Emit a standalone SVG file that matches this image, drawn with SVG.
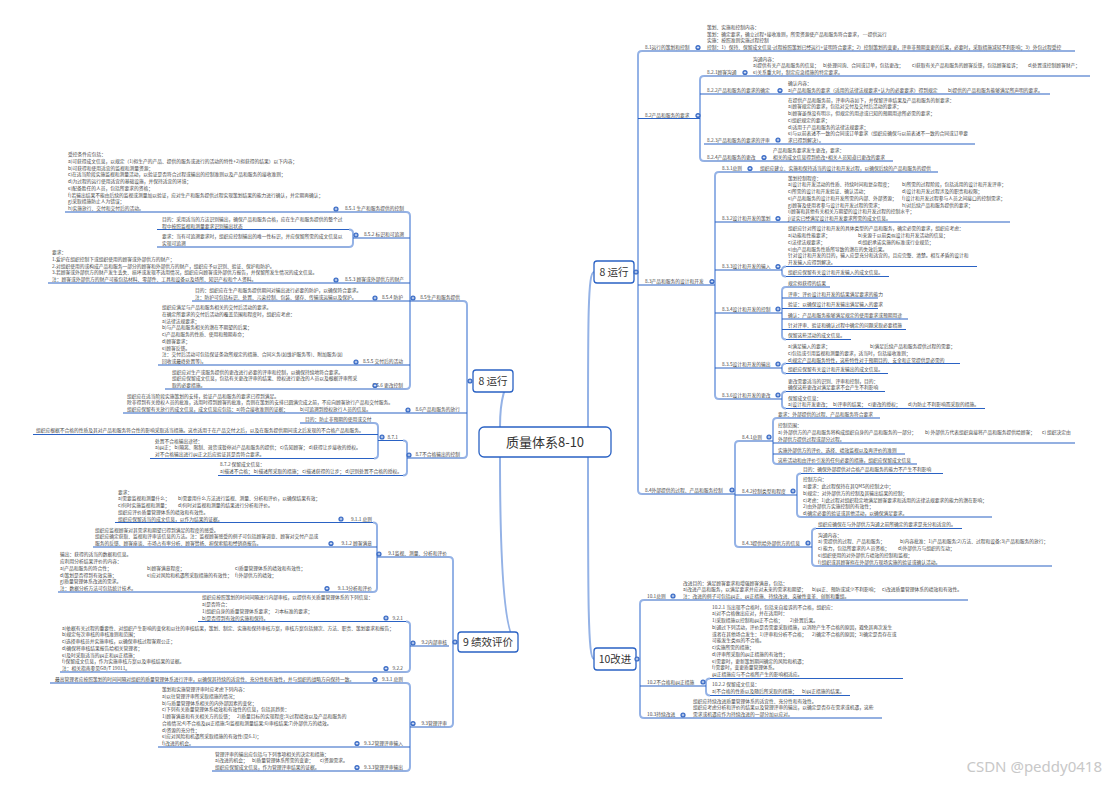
<svg xmlns="http://www.w3.org/2000/svg" xmlns:xlink="http://www.w3.org/1999/xlink" width="1116" height="788" viewBox="0 0 1116 788" xml:space="preserve">
<style>
.t{font-family:"Noto Sans CJK SC","Noto Sans",sans-serif;font-size:4.75px;fill:#454545}
.e{text-anchor:end}
.u{stroke:#2a62c4;stroke-width:1.2;fill:none}
.v{stroke:#94b2e6;stroke-width:2;fill:none}
.cv{stroke:#94b2e6;stroke-width:2;fill:none}
.m{fill:#fff;stroke:#2a62c4;stroke-width:1.3}
.mt{font-family:"Noto Sans CJK SC","Noto Sans",sans-serif;font-size:10.5px;fill:#333;text-anchor:middle}
.ct{font-family:"Noto Sans CJK SC","Noto Sans",sans-serif;font-size:13px;fill:#333;text-anchor:middle}
</style>
<defs>
<g id="d"><circle r="2.6" fill="#3b6cc6"/><path d="M-1.3,0H1.3M0,-1.3V1.3" stroke="#fff" stroke-width="0.7"/></g>
</defs>
<rect width="1116" height="788" fill="#fff"/>
<g id="connectors">
<path class="cv" d="M588,427 C588,320 588,272 594,272"/>
<path class="cv" d="M588,457 C588,600 588,659 594,659"/>
<path class="cv" d="M500,427 C500,400 505,381 513,381"/>
<path class="cv" d="M500,457 C500,600 508,642 518,642"/>
<path class="v" d="M642,51 Q638,51 638,55 L638,490 Q638,494 642,494"/>
<path class="v" d="M704,76 Q700,76 700,80 L700,157 Q700,161 704,161"/>
<path class="v" d="M719,172 Q715,172 715,176 L715,395 Q715,399 719,399"/>
<path class="v" d="M786,266.5 Q782,266.5 782,270 L782,273 Q782,276.5 786,276.5"/>
<path class="v" d="M786,287 Q782,287 782,291 L782,335.5 Q782,339.5 786,339.5"/>
<path class="v" d="M786,363.5 Q782,363.5 782,367 L782,370 Q782,373.5 786,373.5"/>
<path class="v" d="M786,391.5 Q782,391.5 782,395 L782,404.5 Q782,408.5 786,408.5"/>
<path class="v" d="M739,441 Q735,441 735,445 L735,543 Q735,547 739,547"/>
<path class="v" d="M777,418 Q773,418 773,422 L773,460 Q773,464 777,464"/>
<path class="v" d="M801,473.5 Q797,473.5 797,477 L797,513 Q797,517 801,517"/>
<path class="v" d="M816,528.5 Q812,528.5 812,532 L812,562 Q812,566 816,566"/>
<path class="v" d="M644,600 Q640,600 640,604 L640,714 Q640,718 644,718"/>
<path class="v" d="M710,678.5 Q706,678.5 706,682 L706,691.5 Q706,695.5 710,695.5"/>
<path class="v" d="M463,301 Q467,301 467,305 L467,454 Q467,458 463,458"/>
<path class="v" d="M406,212 Q410,212 410,216 L410,385 Q410,389 406,389"/>
<path class="v" d="M349,229.5 Q353,229.5 353,233 L353,243 Q353,247 349,247"/>
<path class="v" d="M403,440.5 Q407,440.5 407,444 L407,471.5 Q407,475.5 403,475.5"/>
<path class="v" d="M374,423 Q378,423 378,427 L378,454.5 Q378,458.5 374,458.5"/>
<path class="v" d="M449,557 Q453,557 453,561 L453,723 Q453,727 449,727"/>
<path class="v" d="M373,522.5 Q377,522.5 377,526 L377,588 Q377,592 373,592"/>
<path class="v" d="M406,621.5 Q410,621.5 410,625 L410,668 Q410,672 406,672"/>
<path class="v" d="M406,683 Q410,683 410,687 L410,767 Q410,771 406,771"/>
<path class="u" d="M642,51H1075M638,118.5H700M704,76H1090M700,94H1050M704,144H975M704,161H893M638,285H715M719,172H938M715,222H1010M715,270H782M786,266.5H977M786,276.5H889M715,313H782M786,287H830M782,298H878M782,308.5H878M782,319H908M782,329.5H906M786,339.5H851M715,368H782M786,363.5H960M786,373.5H888M719,399H782M786,391.5H885M786,408.5H985M642,494H735M739,441H773M777,418H880M773,443H1075M773,454H905M777,464H917M735,495H797M801,473.5H943M801,517H992M739,547H812M816,528.5H962M816,566H1052M644,600H968M640,686H706M710,678.5H903M710,695.5H850M644,718H882"/>
<path class="u" d="M463,301H410M406,212H65M410,238H353M349,229.5H157M349,247H157M410,283H48M410,301H192M410,365H158M406,389H165M467,413H123M463,458H407M403,440.5H378M374,423H300M378,434.5H33M374,458.5H150M403,475.5H218M449,557H377M373,522.5H115M377,547H93M373,592H58M449,646H410M406,621.5H198M406,672H60M449,727H410M406,683H50M410,747H158M406,771H212"/>
</g>
<g id="center"><rect x="479" y="427" width="132" height="30" rx="5" class="m"/><text class="ct" x="545" y="447">质量体系8-10</text></g>
<g id="n8r"><rect x="594" y="261" width="40" height="22" rx="3" class="m"/><text class="mt" x="614" y="275.8">8 运行</text><use href="#d" x="636" y="272"/></g>
<g id="n10"><rect x="594" y="648" width="42" height="22" rx="3" class="m"/><text class="mt" x="615" y="662.8">10改进</text><use href="#d" x="637" y="659"/></g>
<g id="n8l"><rect x="473" y="370" width="40" height="22" rx="3" class="m"/><text class="mt" x="493" y="384.8">8 运行</text><use href="#d" x="470" y="381"/></g>
<g id="n9"><rect x="458" y="632" width="60" height="20" rx="3" class="m"/><text class="mt" x="488" y="645.8">9 绩效评价</text><use href="#d" x="455" y="642"/></g>

<g id="n8-1"><text class="t"><tspan x="645" y="49">8.1运行的策划和控制</tspan></text><use href="#d" x="698" y="47.5"/><text class="t"><tspan x="707" y="28.75">策划、实施和控制内容：</tspan><tspan x="707" y="35.5">策划：确定要求，确立过程+接收准则，所需资源使产品和服务符合要求，    ---提供运行</tspan><tspan x="707" y="42.25">实施：按照准则实施过程控制</tspan><tspan x="707" y="49">控制：1）保持、保留成文信息-过程按照策划已经运行+证明符合要求；2）控制策划的变更，评审非预期变更的后果，必要时，采取措施减轻不利影响；3）外包过程受控</tspan></text></g>
<g id="n8-2"><text class="t"><tspan x="645" y="116.5">8.2产品和服务的要求</tspan></text><use href="#d" x="698" y="115.5"/></g>
<g id="n8-2-1"><text class="t"><tspan x="707" y="74">8.2.1顾客沟通</tspan></text><use href="#d" x="745" y="72.5"/><text class="t"><tspan x="753" y="60.5">沟通内容：</tspan><tspan x="753" y="67.25">a)提供有关产品和服务的信息；</tspan><tspan x="823" y="67.25">b)处理问询、合同或订单，包括更改；</tspan><tspan x="912" y="67.25">c)获取有关产品和服务的顾客反馈，包括顾客投诉；</tspan><tspan x="1028" y="67.25">d)处置或控制顾客财产；</tspan><tspan x="753" y="74">e)关系重大时，制定应急措施的特定要求。</tspan></text></g>
<g id="n8-2-2"><text class="t"><tspan x="707" y="92">8.2.2产品和服务的要求的确定</tspan></text><use href="#d" x="780" y="90.5"/><text class="t"><tspan x="788" y="85.25">确认内容：</tspan><tspan x="788" y="92">a)产品和服务的要求（适用的法律法规要求+认为的必要要求）得到规定</tspan><tspan x="948" y="92">b)提供的产品和服务能够满足所声明的要求。</tspan></text></g>
<g id="n8-2-3"><text class="t"><tspan x="707" y="142">8.2.3产品和服务的要求的评审</tspan></text><use href="#d" x="778" y="140"/><text class="t"><tspan x="788" y="101.5">在提供产品和服务前，评审内容如下，并保留评审结果及产品和服务的新要求：</tspan><tspan x="788" y="108.25">a)顾客规定的要求，包括对交付及交付后活动的要求；</tspan><tspan x="788" y="115">b)顾客虽然没有明示，但规定的用途或已知的预期用途所必需的要求；</tspan><tspan x="788" y="121.75">c)组织规定的要求；</tspan><tspan x="788" y="128.5">d)适用于产品和服务的法律法规要求；</tspan><tspan x="788" y="135.25">e)与以前表述不一致的合同或订单要求（组织应确保与以前表述不一致的合同或订单要</tspan><tspan x="788" y="142">求已得到解决）。</tspan></text></g>
<g id="n8-2-4"><text class="t"><tspan x="707" y="159">8.2.4产品和服务的更改</tspan></text><use href="#d" x="764" y="157.5"/><text class="t"><tspan x="773" y="152.25">产品和服务要求发生更改，要求：</tspan><tspan x="773" y="159">相关的成文信息得到修改+相关人员知道已更改的要求</tspan></text></g>
<g id="n8-3"><text class="t"><tspan x="645" y="283">8.3产品和服务的设计和开发</tspan></text><use href="#d" x="712" y="281.5"/></g>
<g id="n8-3-1"><text class="t"><tspan x="722" y="170">8.3.1总则</tspan></text><use href="#d" x="750" y="168.5"/><text class="t"><tspan x="760" y="170">组织应建立、实施和保持适当的设计和开发过程，以确保后续的产品和服务的提供</tspan></text></g>
<g id="n8-3-2"><text class="t"><tspan x="722" y="220">8.3.2设计和开发的策划</tspan></text><use href="#d" x="778" y="218.5"/><text class="t"><tspan x="788" y="179.5">策划控制程度：</tspan><tspan x="788" y="186.25">a)设计和开发活动的性质、持续时间和复杂程度；</tspan><tspan x="902" y="186.25">b)所需的过程阶段，包括适用的设计和开发评审；</tspan><tspan x="788" y="193">c)所需的设计和开发验证、确认活动；</tspan><tspan x="902" y="193">d)设计和开发过程涉及的职责和权限；</tspan><tspan x="788" y="199.75">e)产品和服务的设计和开发所需的内部、外部资源；</tspan><tspan x="902" y="199.75">f)设计和开发过程参与人员之间接口的控制需求；</tspan><tspan x="788" y="206.5">g)顾客及使用者参与设计和开发过程的需求；</tspan><tspan x="902" y="206.5">h)对后续产品和服务提供的要求；</tspan><tspan x="788" y="213.25">i)顾客和其他有关相关方期望的设计和开发过程的控制水平；</tspan><tspan x="788" y="220">j)证实已经满足设计和开发要求所需的成文信息。</tspan></text></g>
<g id="n8-3-3"><text class="t"><tspan x="722" y="268">8.3.3设计和开发的输入</tspan></text><use href="#d" x="778" y="266.5"/><text class="t"><tspan x="788" y="230.25">组织应针对所设计和开发的具体类型的产品和服务，确定必需的要求，组织应考虑：</tspan><tspan x="788" y="237">a)功能和性能要求；</tspan><tspan x="858" y="237">b)来源于以前类似设计和开发活动的信息；</tspan><tspan x="788" y="243.75">c)法律法规要求；</tspan><tspan x="858" y="243.75">d)组织承诺实施的标准或行业规范；</tspan><tspan x="788" y="250.5">e)由产品和服务性质所导致的潜在的失效后果。</tspan><tspan x="788" y="257.25">针对设计和开发的目的，输入应是充分和适宜的，且应完整、清楚。相互矛盾的设计和</tspan><tspan x="788" y="264">开发输入应得到解决。</tspan><tspan x="788" y="274.3">组织应保留有关设计和开发输入的成文信息。</tspan></text></g>
<g id="n8-3-4"><text class="t"><tspan x="722" y="311">8.3.4设计和开发的控制</tspan></text><use href="#d" x="778" y="309"/><text class="t"><tspan x="788" y="285">规定拟获得的结果</tspan><tspan x="788" y="295.8">评审：评价设计和开发的结果满足要求的能力</tspan><tspan x="788" y="306.3">验证：以确保设计和开发输出满足输入的要求</tspan><tspan x="788" y="316.8">确认：产品和服务能够满足规定的使用要求或预期用途</tspan><tspan x="788" y="327.3">针对评审、验证和确认过程中确定的问题采取必要措施</tspan><tspan x="788" y="337.3">保留这些活动的成文信息。</tspan></text></g>
<g id="n8-3-5"><text class="t"><tspan x="722" y="366">8.3.5设计和开发的输出</tspan></text><use href="#d" x="778" y="364"/><text class="t"><tspan x="788" y="348">a)满足输入的要求；</tspan><tspan x="870" y="348">b)满足后续产品和服务提供过程的需要；</tspan><tspan x="788" y="354.75">c)包括或引用监视和测量的要求，适当时，包括接收准则；</tspan><tspan x="788" y="361.5">d)规定产品和服务特性，这些特性对于预期目的、安全和正常提供是必需的</tspan><tspan x="788" y="371.3">组织应保留有关设计和开发输出的成文信息。</tspan></text></g>
<g id="n8-3-6"><text class="t"><tspan x="722" y="397">8.3.6设计和开发的更改</tspan></text><use href="#d" x="778" y="395"/><text class="t"><tspan x="788" y="382.5">更改需要适当的识别、评审和控制，目的：</tspan><tspan x="788" y="389.25">确保这些更改对满足要求不会产生不利影响</tspan><tspan x="788" y="399.5">保留成文信息：</tspan><tspan x="788" y="406.25">a)设计和开发更改；</tspan><tspan x="833" y="406.25">b)评审的结果；</tspan><tspan x="868" y="406.25">c)更改的授权；</tspan><tspan x="908" y="406.25">d)为防止不利影响而采取的措施。</tspan></text></g>
<g id="n8-4"><text class="t"><tspan x="645" y="492">8.4外部提供的过程、产品和服务控制</tspan></text><use href="#d" x="732" y="490"/></g>
<g id="n8-4-1"><text class="t"><tspan x="742" y="439">8.4.1总则</tspan></text><use href="#d" x="769" y="437"/><text class="t"><tspan x="778" y="416">要求：外部提供的过程、产品和服务符合要求</tspan><tspan x="778" y="427">控制范围：</tspan><tspan x="778" y="433.75">a) 外部供方的产品和服务将构成组织自身的产品和服务的一部分；</tspan><tspan x="925" y="433.75">b) 外部供方代表组织直接将产品和服务提供给顾客；</tspan><tspan x="1042" y="433.75">c) 组织决定由</tspan><tspan x="778" y="440.5">外部供方提供过程或部分过程。</tspan><tspan x="778" y="451.8">实施外部供方的评价、选择、绩效监视以及再评价的准则</tspan><tspan x="778" y="461.8">这些活动和由评价引发的任何必要的措施，组织应保留成文信息</tspan></text></g>
<g id="n8-4-2"><text class="t"><tspan x="742" y="493">8.4.2控制类型和程度</tspan></text><use href="#d" x="793" y="491"/><text class="t"><tspan x="803" y="471.3">目的：确保外部提供对合格产品和服务的能力不产生不利影响</tspan><tspan x="803" y="481.25">控制方向：</tspan><tspan x="803" y="488">a)要求：此过程保持在其QMS的控制之中；</tspan><tspan x="803" y="494.75">b)规定：对外部供方的控制及其输出结果的控制；</tspan><tspan x="803" y="501.5">c)考虑：1)此过程对组织稳定地满足顾客要求和适用的法律法规要求的能力的潜在影响；</tspan><tspan x="803" y="508.25">2)由外部供方实施控制的有效性；</tspan><tspan x="803" y="515">d)确定必要的验证或其他活动，以确保满足要求。</tspan></text></g>
<g id="n8-4-3"><text class="t"><tspan x="742" y="545">8.4.3提供给外部供方的信息</tspan></text><use href="#d" x="808" y="543"/><text class="t"><tspan x="818" y="526.3">组织应确保在与外部供方沟通之前所确定的要求是充分和适宜的。</tspan><tspan x="818" y="536.5">沟通内容：</tspan><tspan x="818" y="543.25">a) 需提供的过程、产品和服务；</tspan><tspan x="900" y="543.25">b)内容批准：1)产品和服务;2)方法、过程和设备;3)产品和服务的放行；</tspan><tspan x="818" y="550">c) 能力，包括所要求的人员资格；</tspan><tspan x="898" y="550">d)外部供方与组织的互动；</tspan><tspan x="818" y="556.75">e)组织使用的对外部供方绩效的控制和监视；</tspan><tspan x="818" y="563.5">f)组织或其顾客拟在外部供方现场实施的验证或确认活动。</tspan></text></g>
<g id="n10-1"><text class="t"><tspan x="647" y="598">10.1总则</tspan></text><use href="#d" x="673" y="596"/><text class="t"><tspan x="683" y="584.5">改进目的：满足顾客要求和增强顾客满意，包括：</tspan><tspan x="683" y="591.25">a)改进产品和服务，以满足要求并应对未来的需求和期望；</tspan><tspan x="812" y="591.25">b)纠正、预防或减少不利影响；</tspan><tspan x="882" y="591.25">c)改进质量管理体系的绩效和有效性。</tspan><tspan x="683" y="598">注：改进的例子可包括纠正、纠正措施、持续改进、突破性变革、创新和重组。</tspan></text></g>
<g id="n10-2"><text class="t"><tspan x="647" y="684">10.2不合格和纠正措施</tspan></text><use href="#d" x="703" y="682"/><text class="t"><tspan x="712" y="608.5">10.2.1 当出现不合格时，包括来自投诉的不合格，组织应：</tspan><tspan x="712" y="615.25">a)对不合格做出应对，并在适用时：</tspan><tspan x="712" y="622">1)采取措施以控制和纠正不合格；</tspan><tspan x="790" y="622">2)处置后果。</tspan><tspan x="712" y="628.75">b)通过下列活动，评价是否需要采取措施，以消除产生不合格的原因，避免其再次发生</tspan><tspan x="712" y="635.5">或者在其他场合发生：1)评审和分析不合格；</tspan><tspan x="812" y="635.5">2)确定不合格的原因；3)确定是否存在或</tspan><tspan x="712" y="642.25">可能发生类似的不合格。</tspan><tspan x="712" y="649">c)实施所需的措施；</tspan><tspan x="712" y="655.75">d)评审所采取的纠正措施的有效性；</tspan><tspan x="712" y="662.5">e)需要时，更新策划期间确定的风险和机遇；</tspan><tspan x="712" y="669.25">f)需要时，变更质量管理体系。</tspan><tspan x="712" y="676">纠正措施应与不合格所产生的影响相适应。</tspan><tspan x="712" y="686.3">10.2.2 保留成文信息：</tspan><tspan x="712" y="693">a)不合格的性质以及随后所采取的措施；</tspan><tspan x="802" y="693">b)纠正措施的结果。</tspan></text></g>
<g id="n10-3"><text class="t"><tspan x="647" y="716">10.3持续改进</tspan></text><use href="#d" x="683" y="715"/><text class="t"><tspan x="693" y="702.5">组织应持续改进质量管理体系的适宜性、充分性和有效性。</tspan><tspan x="693" y="709.25">组织应考虑分析和评价的结果以及管理评审的输出，以确定是否存在需求或机遇，这些</tspan><tspan x="693" y="716">需求或机遇应作为持续改进的一部分加以应对。</tspan></text></g>

<g id="n8-5"><text class="t e"><tspan x="460" y="299">8.5生产和服务提供</tspan></text><use href="#d" x="413" y="298"/></g>
<g id="n8-5-1"><text class="t e"><tspan x="404" y="210">8.5.1 生产和服务提供的控制</tspan></text><use href="#d" x="336" y="209"/><text class="t"><tspan x="68" y="156">受控条件应包括：</tspan><tspan x="68" y="162.75">a)可获得成文信息，以规定（1)拟生产的产品、提供的服务或进行的活动的特性+2)拟获得的结果）以下内容；</tspan><tspan x="68" y="169.5">b)可获得和使用适宜的监视和测量资源；</tspan><tspan x="68" y="176.25">c)在适当阶段实施监视和测量活动，以验证是否符合过程或输出的控制准则以及产品和服务的接收准则；</tspan><tspan x="68" y="183">d)为过程的运行使用适宜的基础设施，并保持适宜的环境；</tspan><tspan x="68" y="189.75">e)配备胜任的人员，包括所要求的资格；</tspan><tspan x="68" y="196.5">f)若输出结果不能由后续的监视或测量加以验证，应对生产和服务提供过程实现策划结果的能力进行确认，并定期再确认；</tspan><tspan x="68" y="203.25">g)采取措施防止人为错误；</tspan><tspan x="68" y="210">h)实施放行、交付和交付后的活动。</tspan></text></g>
<g id="n8-5-2"><text class="t e"><tspan x="404" y="236">8.5.2 标识和可追溯</tspan></text><use href="#d" x="356" y="235"/><text class="t"><tspan x="162" y="221">目的：采用适当的方法识别输出，确保产品和服务合格，应在生产和服务提供的整个过</tspan><tspan x="162" y="227.5">程中按照监视和测量要求识别输出状态</tspan><tspan x="162" y="238.2">要求：当有可追溯要求时，组织应控制输出的唯一性标识，并应保留所需的成文信息以</tspan><tspan x="162" y="245">实现可追溯</tspan></text></g>
<g id="n8-5-3"><text class="t e"><tspan x="404" y="281">8.5.3 顾客或外部供方的财产</tspan></text><use href="#d" x="336" y="280"/><text class="t"><tspan x="52" y="254">要求：</tspan><tspan x="52" y="260.75">1.爱护在组织控制下或组织使用的顾客或外部供方的财产；</tspan><tspan x="52" y="267.5">2.对组织使用的或构成产品和服务一部分的顾客和外部供方的财产，组织应予以识别、验证、保护和防护。</tspan><tspan x="52" y="274.25">3.若顾客或外部供方的财产发生丢失、损坏或发现不适用情况，组织应向顾客或外部供方报告，并保留所发生情况的成文信息。</tspan><tspan x="52" y="281">注：顾客或外部供方的财产可能包括材料、零部件、工具和设备以及场所、知识产权和个人资料。</tspan></text></g>
<g id="n8-5-4"><text class="t e"><tspan x="403" y="299">8.5.4 防护</tspan></text><use href="#d" x="375" y="298"/><text class="t"><tspan x="195" y="292.25">目的：组织应在生产和服务提供期间对输出进行必要的防护，以确保符合要求。</tspan><tspan x="195" y="299">注：防护可包括标识、处置、污染控制、包装、储存、传输或运输以及保护。</tspan></text></g>
<g id="n8-5-5"><text class="t e"><tspan x="403" y="363">8.5.5 交付后的活动</tspan></text><use href="#d" x="356" y="362"/><text class="t"><tspan x="162" y="309">组织应满足与产品和服务相关的交付后活动的要求。</tspan><tspan x="162" y="315.75">在确定所要求的交付后活动的覆盖范围和程度时，组织应考虑：</tspan><tspan x="162" y="322.5">a)法律法规要求；</tspan><tspan x="162" y="329.25">b)与产品和服务相关的潜在不期望的后果；</tspan><tspan x="162" y="336">c)产品和服务的性质、使用和预期寿命；</tspan><tspan x="162" y="342.75">d)顾客要求；</tspan><tspan x="162" y="349.5">e)顾客反馈。</tspan><tspan x="162" y="356.25">注：交付后活动可包括保证条款所规定的措施、合同义务(如维护服务等)、附加服务(如</tspan><tspan x="162" y="363">回收或最终处置等)。</tspan></text></g>
<g id="n8-5-6"><text class="t e"><tspan x="403" y="387">8.5.6 更改控制</tspan></text><use href="#d" x="375" y="385.5"/><text class="t"><tspan x="172" y="373.5">组织应对生产或服务提供的更改进行必要的评审和控制，以确保持续地符合要求。</tspan><tspan x="172" y="380.25">组织应保留成文信息，包括有关更改评审的结果、授权进行更改的人员以及根据评审所采</tspan><tspan x="172" y="387">取的必要措施。</tspan></text></g>
<g id="n8-6"><text class="t e"><tspan x="460" y="411">8.6产品和服务的放行</tspan></text><use href="#d" x="408" y="410"/><text class="t"><tspan x="127" y="397.5">组织应在适当阶段实施策划的安排，验证产品和服务的要求已得到满足。</tspan><tspan x="127" y="404.25">除非得到有关授权人员的批准，适用时得到顾客的批准，否则在策划的安排已圆满完成之前，不应向顾客放行产品和交付服务。</tspan><tspan x="127" y="411">组织应保留有关放行的成文信息，成文信息应包括：a)符合接收准则的证据；</tspan><tspan x="300" y="411">b)可追溯到授权放行人员的信息。</tspan></text></g>
<g id="n8-7"><text class="t e"><tspan x="460" y="456">8.7不合格输出的控制</tspan></text><use href="#d" x="409" y="455"/></g>
<g id="n8-7-1"><text class="t e"><tspan x="398" y="438.5">8.7.1</tspan></text><use href="#d" x="382" y="437"/><text class="t"><tspan x="305" y="421">目的：防止非预期的使用或交付</tspan><tspan x="36" y="432">组织应根据不合格的性质及其对产品和服务符合性的影响采取适当措施。这也适用于在产品交付之后，以及在服务提供期间或之后发现的不合格产品和服务。</tspan><tspan x="155" y="442.5">处置不合格输出途径：</tspan><tspan x="155" y="449.25">a)纠正；  b)隔离、限制、退货或暂停对产品和服务的提供；   c)告知顾客；    d)获得让步接收的授权。</tspan><tspan x="155" y="456">对不合格输出进行纠正之后应验证其是否符合要求。</tspan></text></g>
<g id="n8-7-2"><text class="t"><tspan x="220" y="466.3">8.7.2 保留成文信息：</tspan><tspan x="220" y="473">a)描述不合格；  b)描述所采取的措施；  c)描述获得的让步；  d)识别处置不合格的授权。</tspan></text></g>

<g id="n9-1"><text class="t e"><tspan x="447" y="555">9.1监视、测量、分析和评价</tspan></text><use href="#d" x="379" y="554"/></g>
<g id="n9-1-1"><text class="t e"><tspan x="372" y="520.5">9.1.1 总则</tspan></text><use href="#d" x="341" y="519"/><text class="t"><tspan x="118" y="493.5">要求：</tspan><tspan x="118" y="500.25">a)需要监视和测量什么；</tspan><tspan x="178" y="500.25">b)需要用什么方法进行监视、测量、分析和评价，以确保结果有效；</tspan><tspan x="118" y="507">c)何时实施监视和测量；</tspan><tspan x="178" y="507">d)何时对监视和测量的结果进行分析和评价。</tspan><tspan x="118" y="513.75">组织应评价质量管理体系的绩效和有效性。</tspan><tspan x="118" y="520.5">组织应保留适当的成文信息，以作为结果的证据。</tspan></text></g>
<g id="n9-1-2"><text class="t e"><tspan x="372" y="545">9.1.2 顾客满意</tspan></text><use href="#d" x="331" y="543.5"/><text class="t"><tspan x="95" y="531.5">组织应监视顾客对其需求和期望已得到满足的程度的感受。</tspan><tspan x="95" y="538.25">组织应确定获取、监视和评审该信息的方法。注：监视顾客感受的例子可包括顾客调查、顾客对交付产品或</tspan><tspan x="95" y="545">服务的反馈、顾客座谈、市场占有率分析、顾客赞扬、担保索赔和经销商报告。</tspan></text></g>
<g id="n9-1-3"><text class="t e"><tspan x="372" y="590">9.1.3分析和评价</tspan></text><use href="#d" x="327" y="588.5"/><text class="t"><tspan x="60" y="556.25">输出：获得的适当的数据和信息。</tspan><tspan x="60" y="563">应利用分析结果评价的内容：</tspan><tspan x="60" y="569.75">a)产品和服务的符合性；</tspan><tspan x="147" y="569.75">b)顾客满意程度；</tspan><tspan x="235" y="569.75">c)质量管理体系的绩效和有效性；</tspan><tspan x="60" y="576.5">d)策划是否得到有效实施；</tspan><tspan x="147" y="576.5">e)应对风险和机遇所采取措施的有效性；</tspan><tspan x="235" y="576.5">f)外部供方的绩效；</tspan><tspan x="60" y="583.25">g)质量管理体系改进的需求。</tspan><tspan x="60" y="590">注：数据分析方法可包括统计技术。</tspan></text></g>
<g id="n9-2"><text class="t e"><tspan x="447" y="644">9.2内部审核</tspan></text><use href="#d" x="413" y="643"/></g>
<g id="n9-2-1"><text class="t e"><tspan x="403" y="619.5">9.2.1</tspan></text><use href="#d" x="386" y="618"/><text class="t"><tspan x="202" y="599.25">组织应按照策划的时间间隔进行内部审核，以提供有关质量管理体系的下列信息：</tspan><tspan x="202" y="606">a)是否符合：</tspan><tspan x="202" y="612.75">1)组织自身的质量管理体系要求；</tspan><tspan x="275" y="612.75">2)本标准的要求；</tspan><tspan x="202" y="619.5">b)是否得到有效的实施和保持。</tspan></text></g>
<g id="n9-2-2"><text class="t e"><tspan x="403" y="670">9.2.2</tspan></text><use href="#d" x="386" y="668.5"/><text class="t"><tspan x="62" y="629.5">a)依据有关过程的重要性、对组织产生影响的变化和以往的审核结果，策划、制定、实施和保持审核方案，审核方案包括频次、方法、职责、策划要求和报告；</tspan><tspan x="62" y="636.25">b)规定每次审核的审核准则和范围；</tspan><tspan x="62" y="643">c)选择审核员并实施审核，以确保审核过程客观公正；</tspan><tspan x="62" y="649.75">d)确保将审核结果报告给相关管理者；</tspan><tspan x="62" y="656.5">e)及时采取适当的纠正和纠正措施；</tspan><tspan x="62" y="663.25">f)保留成文信息，作为实施审核方案以及审核结果的证据。</tspan><tspan x="62" y="670">注：相关指南参见GB/T 19011。</tspan></text></g>
<g id="n9-3"><text class="t e"><tspan x="447" y="725">9.3管理评审</tspan></text><use href="#d" x="413" y="723.5"/></g>
<g id="n9-3-1"><text class="t e"><tspan x="403" y="681">9.3.1 总则</tspan></text><use href="#d" x="375" y="679.5"/><text class="t"><tspan x="55" y="681">最高管理者应按照策划的时间间隔对组织的质量管理体系进行评审，以确保其持续的适宜性、充分性和有效性，并与组织的战略方向保持一致。</tspan></text></g>
<g id="n9-3-2"><text class="t e"><tspan x="403" y="745">9.3.2管理评审输入</tspan></text><use href="#d" x="357" y="743.5"/><text class="t"><tspan x="162" y="691">策划和实施管理评审时应考虑下列内容：</tspan><tspan x="162" y="697.75">a)以往管理评审所采取措施的情况；</tspan><tspan x="162" y="704.5">b)与质量管理体系相关的内外部因素的变化；</tspan><tspan x="162" y="711.25">c)下列有关质量管理体系绩效和有效性的信息，包括其趋势：</tspan><tspan x="162" y="718">1)顾客满意和有关相关方的反馈；</tspan><tspan x="237" y="718">2)质量目标的实现程度;3)过程绩效以及产品和服务的</tspan><tspan x="162" y="724.75">合格情况;4)不合格及纠正措施;5)监视和测量结果;6)审核结果;7)外部供方的绩效。</tspan><tspan x="162" y="731.5">d)资源的充分性；</tspan><tspan x="162" y="738.25">e)应对风险和机遇所采取措施的有效性(见6.1)；</tspan><tspan x="162" y="745">f)改进的机会。</tspan></text></g>
<g id="n9-3-3"><text class="t e"><tspan x="403" y="769">9.3.3管理评审输出</tspan></text><use href="#d" x="357" y="767.5"/><text class="t"><tspan x="215" y="755.5">管理评审的输出应包括与下列事项相关的决定和措施：</tspan><tspan x="215" y="762.25">a)改进的机会；</tspan><tspan x="252" y="762.25">b)质量管理体系所需的变更；</tspan><tspan x="320" y="762.25">c)资源需求。</tspan><tspan x="215" y="769">组织应保留成文信息，作为管理评审结果的证据。</tspan></text></g>
<text x="1102" y="772" font-family="'Noto Sans','Liberation Sans',sans-serif" font-size="15" fill="#c8c8c8" text-anchor="end">CSDN @peddy0418</text>
</svg>
